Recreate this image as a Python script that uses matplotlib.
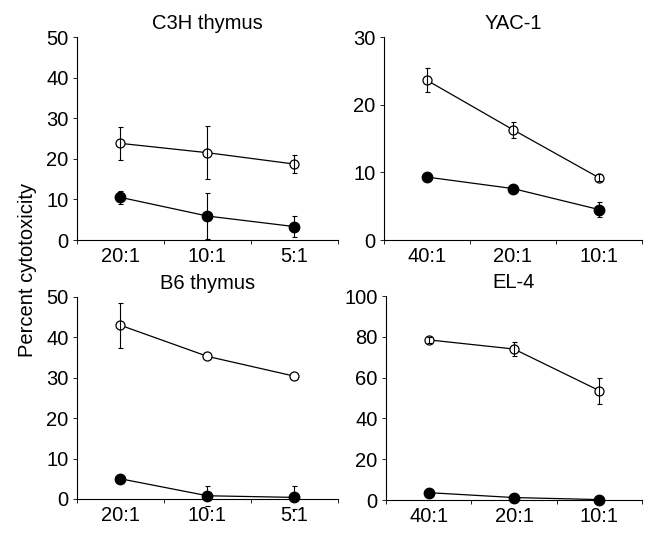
import numpy as np
import matplotlib
matplotlib.use("Agg")
import matplotlib.pyplot as plt

plt.rcParams['font.family'] = ['Liberation Sans', 'DejaVu Sans']

# panel titles, x labels and y limits
titles = ["C3H thymus", "YAC-1", "B6 thymus", "EL-4"]
ratios = [["20:1", "10:1", "5:1"], ["40:1", "20:1", "10:1"],
          ["20:1", "10:1", "5:1"], ["40:1", "20:1", "10:1"]]
ymax = [50, 30, 50, 100]
ystep = [10, 10, 10, 20]

# open circles
open_mean = [[23.8, 21.5, 18.7], [23.6, 16.3, 9.2], [43.0, 35.3, 30.4], [78.5, 74.0, 53.6]]
open_err = [[4.0, 6.5, 2.3], [1.8, 1.2, 0.5], [5.6, 0.0, 0.0], [1.5, 3.6, 6.3]]
# filled circles
fill_mean = [[10.5, 5.9, 3.3], [9.3, 7.6, 4.5], [5.0, 0.8, 0.4], [3.6, 1.2, 0.2]]
fill_err = [[1.6, 5.6, 2.5], [0.0, 0.0, 1.1], [0.0, 2.5, 2.9], [0.0, 0.0, 0.0]]

fig = plt.figure(figsize=(6.49, 5.34), dpi=100)
boxes = [
    [77/649, 1-240/534, 261/649, 203/534],
    [384/649, 1-240/534, 258/649, 203/534],
    [77/649, 1-499/534, 261/649, 202/534],
    [386/649, 1-500/534, 256/649, 204/534],
]

FS = 14.5
xpos = np.array([0.5, 1.5, 2.5])


def err_bars(ax, y, e, z):
    # skip points where no error bar is visible
    y = np.array(y)
    e = np.array(e)
    keep = e > 0
    if keep.any():
        ax.errorbar(xpos[keep], y[keep], yerr=e[keep], fmt='none', ecolor='black',
                    elinewidth=0.8, capsize=1.8, capthick=0.8, zorder=z)


for i in range(4):
    ax = fig.add_axes(boxes[i])
    ax.plot(xpos, open_mean[i], color='black', lw=0.9, marker='o', ms=6.5,
            mfc='white', mec='black', mew=0.9, zorder=3)
    err_bars(ax, open_mean[i], open_err[i], 4)
    err_bars(ax, fill_mean[i], fill_err[i], 2)
    ax.plot(xpos, fill_mean[i], color='black', lw=0.9, marker='o', ms=7.5,
            mfc='black', mec='black', zorder=3)
    ax.set_xlim(0, 3)
    ax.set_ylim(0, ymax[i])
    ax.set_yticks(np.arange(0, ymax[i] + 1, ystep[i]))
    ax.set_xticks([0, 1, 2, 3])
    ax.set_xticklabels([])
    ax.set_xticks(xpos, minor=True)
    ax.set_xticklabels(ratios[i], minor=True)
    ax.tick_params(axis='x', which='minor', length=0, pad=5, labelsize=FS)
    ax.tick_params(axis='x', which='major', length=3, width=0.6, direction='out')
    ax.tick_params(axis='y', length=3, width=0.6, direction='out', pad=3, labelsize=FS)
    for s in ['top', 'right']:
        ax.spines[s].set_visible(False)
    for s in ['left', 'bottom']:
        ax.spines[s].set_linewidth(0.8)
    for ln in ax.get_lines():
        ln.set_clip_on(False)
    ax.set_title(titles[i], fontsize=FS, pad=6)

fig.text(0.042, 0.495, "Percent cytotoxicity", rotation=90, ha='center', va='center', fontsize=FS)

fig.savefig("out.png", dpi=100)
